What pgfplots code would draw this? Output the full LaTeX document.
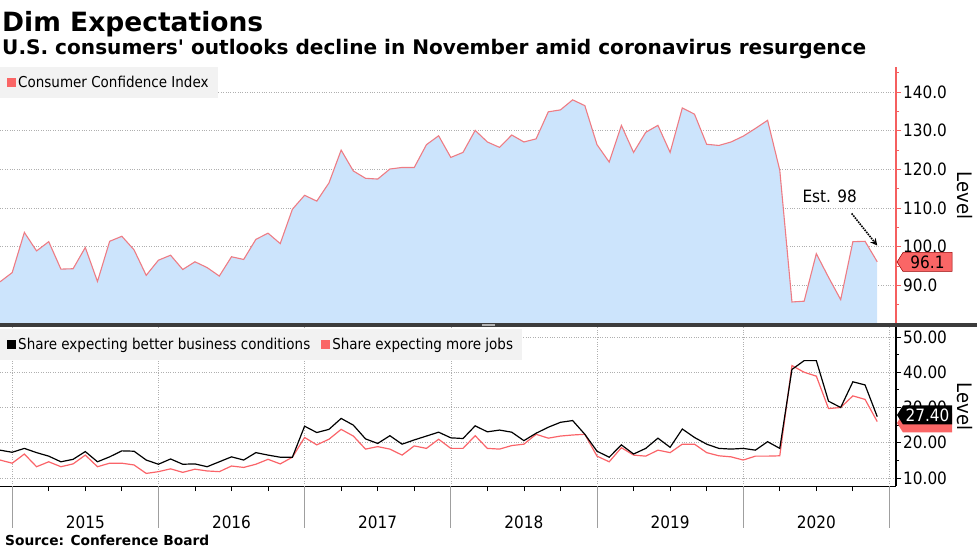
\documentclass[border=0pt]{standalone}
\usepackage{graphicx}
\usepackage{pgfplots}
\usepackage{pgfplotstable}
\pgfplotsset{compat=1.18}
\usepackage{fontspec}
\setmainfont{DejaVu Sans Condensed}
\newfontfamily\titlefont{DejaVu Sans}
\usetikzlibrary{arrows.meta}

\definecolor{areablue}{RGB}{204,228,252}
\definecolor{cciline}{RGB}{238,124,132}
\definecolor{axred}{RGB}{245,95,95}
\definecolor{tagred}{RGB}{250,102,102}
\definecolor{jobsred}{RGB}{250,100,105}
\definecolor{legbg}{RGB}{242,242,242}
\definecolor{sepgray}{RGB}{60,60,60}
\definecolor{gridgray}{RGB}{175,175,175}

% m = month index, 0 = Nov 2014 ... 72 = Nov 2020
\pgfplotstableread{
m cci biz jobs
0 90.9 17.9 15.1
1 93.3 17.3 14.2
2 103.7 18.4 16.8
3 98.9 17.2 13.2
4 101.3 16.2 14.6
5 94.2 14.6 13.2
6 94.3 15.3 14.0
7 99.8 17.5 16.5
8 91.0 14.6 13.2
9 101.4 16.0 14.2
10 102.7 17.7 14.2
11 99.2 17.6 13.7
12 92.6 15.1 11.3
13 96.5 13.9 11.8
14 97.8 15.4 12.6
15 94.1 13.9 11.6
16 96.1 14.0 12.5
17 94.6 13.2 12.0
18 92.4 14.6 11.8
19 97.4 16.0 13.4
20 96.7 15.1 13.0
21 101.9 17.2 13.9
22 103.5 16.5 15.3
23 100.8 15.9 14.0
24 109.7 15.9 15.9
25 113.3 24.7 21.5
26 111.8 22.9 19.4
27 116.5 23.8 21.0
28 125.0 26.9 23.8
29 119.6 25.0 21.9
30 117.7 21.1 18.2
31 117.5 19.8 18.9
32 120.1 22.0 18.2
33 120.5 19.6 16.5
34 120.5 20.8 19.1
35 126.4 21.9 18.4
36 128.7 23.0 21.0
37 123.1 21.4 18.4
38 124.4 21.2 18.4
39 130.1 24.8 22.0
40 127.1 23.1 18.4
41 125.7 23.6 18.2
42 128.9 23.0 19.2
43 127.1 20.6 19.6
44 127.9 22.7 22.4
45 134.9 24.4 21.3
46 135.4 25.8 21.9
47 138.0 26.3 22.2
48 136.5 22.4 22.4
49 126.4 17.6 16.2
50 121.9 15.9 14.6
51 131.4 19.4 18.6
52 124.4 16.8 16.5
53 129.6 18.4 16.2
54 131.4 21.3 17.9
55 124.4 18.7 17.2
56 135.9 23.9 19.6
57 134.3 21.5 19.6
58 126.5 19.6 17.2
59 126.2 18.4 16.3
60 127.1 18.2 16.0
61 128.6 18.4 15.1
62 130.6 17.9 16.2
63 132.7 20.3 16.2
64 119.8 18.4 16.3
65 85.7 40.8 41.9
66 85.9 43.3 40.0
67 98.2 43.3 38.9
68 92.1 31.8 29.7
69 86.3 30.0 30.0
70 101.3 37.3 33.3
71 101.4 36.4 32.3
72 96.1 27.4 26.0
}\conf

\pgfplotsset{
  /pgf/number format/assume math mode=true,
  panel/.style={
    scale only axis, anchor=south west, width=896pt,
    xmin=0, xmax=73.54,
    separate axis lines,
    axis y line*=right,
    axis x line*=bottom,
    tick align=outside,
    major tick length=5pt, minor tick length=3pt,
    minor xtick={1,13,...,73}, xminorgrids, ymajorgrids,
    minor x tick style={draw=none},
    grid style={gridgray, dotted, line width=0.6pt},
    tick label style={font=\fontsize{17}{17}\selectfont},
    yticklabel style={inner xsep=2pt},
    ylabel={Level},
    ylabel style={font=\fontsize{20}{20}\selectfont, rotate=180, at={(axis description cs:1.077,0.5)}, anchor=center},
    legend image code/.code={\fill[##1] (0pt,-4.5pt) rectangle (9pt,4.5pt);},
    legend style={draw=none, fill=legbg, font=\fontsize{15}{15}\selectfont,
      at={(0,1)}, anchor=north west, legend cell align=left,
      inner xsep=7pt, inner ysep=7pt},
    clip mode=individual,
  },
}

\begin{document}
\begin{tikzpicture}[x=1pt,y=1pt]
\path[use as bounding box] (0,0) rectangle (977,549);

% upper panel
\begin{axis}[panel, at={(0pt,225pt)}, height=257pt,
  ymin=80, ymax=146.5,
  xtick=\empty,
  x axis line style={draw=none},
  ytick={90,100,...,140}, minor ytick={85,95,...,145},
  y axis line style={axred, line width=1.2pt},
  y tick style={axred, line width=1pt},
  y tick label style={/pgf/number format/.cd, fixed, fixed zerofill, precision=1},
]
\addlegendimage{fill=tagred, draw=none}
\addlegendentry{Consumer Confidence Index}
\addplot[draw=none, fill=areablue, forget plot] table[x=m, y=cci]{\conf} \closedcycle;
\addplot[cciline, line width=1.1pt, forget plot] table[x=m, y=cci]{\conf};
\node[font=\fontsize{17}{17}\selectfont] at (axis cs:68.1,113.1) {Est. 98};
\draw[densely dotted, line width=1.6pt, -{Stealth[length=7pt,width=7pt,open]}] (axis cs:69.9,108.6) -- (axis cs:72,100.3);
\end{axis}

% lower panel
\begin{axis}[panel, at={(0pt,63pt)}, height=159pt,
  ymin=7.73, ymax=52.84,
  xtick={1,4,...,73}, xticklabels={},
  extra x ticks={7,19,31,43,55,67},
  extra x tick labels={2015,2016,2017,2018,2019,2020},
  extra x tick style={tick style={draw=none}, xticklabel style={yshift=-21pt}},
  x axis line style={black, line width=0.8pt},
  x tick style={black, line width=0.8pt},
  ytick={10,20,...,50}, minor ytick={15,25,...,45},
  y axis line style={black, line width=1.2pt},
  y tick style={black, line width=1pt},
  y tick label style={/pgf/number format/.cd, fixed, fixed zerofill, precision=2},
  legend columns=2,
  legend style={at={(0,1)}, yshift=-2pt, /tikz/every even column/.append style={column sep=9pt}},
]
\addlegendimage{fill=black, draw=none}
\addlegendentry{Share expecting better business conditions}
\addlegendimage{fill=tagred, draw=none}
\addlegendentry{Share expecting more jobs}
\addplot[jobsred, line width=1.2pt, forget plot] table[x=m, y=jobs]{\conf};
\addplot[black, line width=1.2pt, forget plot] table[x=m, y=biz]{\conf};
\end{axis}

% year separators below the lower axis
\foreach \m in {1,13,25,37,49,61,73}
  \draw[gray!75, line width=0.8pt] (\m*12.183,63) -- (\m*12.183,21);

% panel separator
\fill[sepgray] (0,222.3) rectangle (977,226.3);
\fill[gray!60] (482,223.3) rectangle (495,225.3);

% last-value tags
\fill[tagred, draw=red!60!black, line width=0.5pt] (897,287) -- (903,296.5) -- (952,296.5) -- (952,277.5) -- (903,277.5) -- cycle;
\node[font=\fontsize{17}{17}\selectfont, inner sep=0] at (927.5,286.5) {96.1};
\fill[tagred] (897,126) -- (903,135.5) -- (952,135.5) -- (952,116.5) -- (903,116.5) -- cycle;
\fill[black] (897,134) -- (903,143.5) -- (952,143.5) -- (952,124.5) -- (903,124.5) -- cycle;
\node[font=\fontsize{17}{17}\selectfont, text=white, inner sep=0] at (927.5,133.5) {27.40};

% titles and source
\node[anchor=base west, inner sep=0] at (2,517) {\resizebox{261pt}{!}{\titlefont\bfseries Dim Expectations}};
\node[anchor=base west, inner sep=0] at (2,494) {\resizebox{864pt}{!}{\titlefont\bfseries U.S. consumers' outlooks decline in November amid coronavirus resurgence}};
\node[anchor=base west, inner sep=0] at (5,4) {\resizebox{204pt}{!}{\titlefont\bfseries Source: Conference Board}};
\end{tikzpicture}
\end{document}
